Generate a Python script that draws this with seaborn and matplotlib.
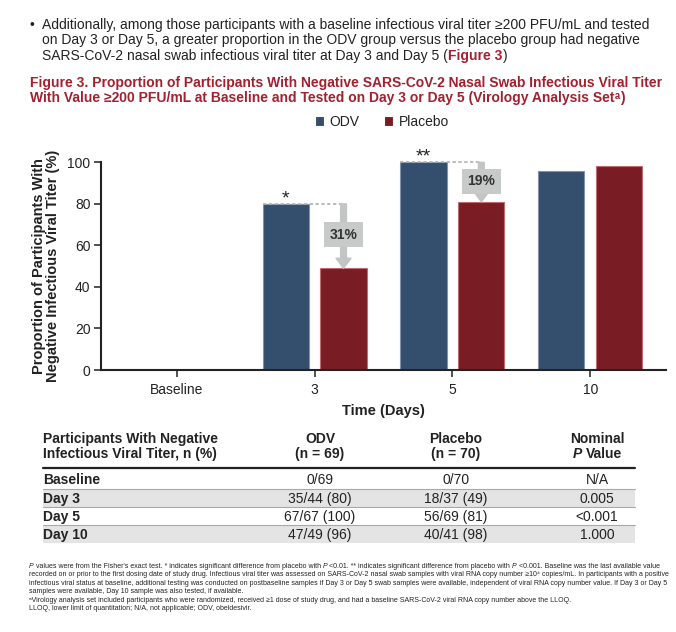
import matplotlib
matplotlib.use("Agg")
import matplotlib.pyplot as plt
import numpy as np
import pandas as pd
import seaborn as sns

# ---------------- data ----------------
days = ["Baseline", "3", "5", "10"]
groups = ["ODV", "Placebo"]
odv_pct = [0, 80, 100, 96]
placebo_pct = [0, 49, 81, 98]
diff_days = ["3", "5"]
diff_labels = ["31%", "19%"]
sig_marks = ["*", "**"]

table_header_left = ["Participants With Negative", "Infectious Viral Titer, n (%)"]
table_row_labels = ["Baseline", "Day 3", "Day 5", "Day 10"]
table_odv = ["0/69", "35/44 (80)", "67/67 (100)", "47/49 (96)"]
table_placebo = ["0/70", "18/37 (49)", "56/69 (81)", "40/41 (98)"]
table_p = ["N/A", "0.005", "<0.001", "1.000"]

bullet_lines = [
    "Additionally, among those participants with a baseline infectious viral titer \u2265200 PFU/mL and tested",
    "on Day 3 or Day 5, a greater proportion in the ODV group versus the placebo group had negative",
    "SARS-CoV-2 nasal swab infectious viral titer at Day 3 and Day 5 ",
]
title_lines = [
    "Figure 3. Proportion of Participants With Negative SARS-CoV-2 Nasal Swab Infectious Viral Titer",
    "With Value \u2265200 PFU/mL at Baseline and Tested on Day 3 or Day 5 (Virology Analysis Set",
]

# ---------------- style ----------------
sns.set_theme(style="white")
plt.rcParams["font.family"] = ["Liberation Sans", "DejaVu Sans"]
plt.rcParams["axes.unicode_minus"] = False

ODV_C = "#344e6e"
PLA_C = "#7a1c24"
RED = "#a3202f"
DARK = "#222222"
GRAY_ARROW = "#c3c5c4"

W, H = 676, 632
fig = plt.figure(figsize=(W / 100, H / 100), dpi=100)
fig.patch.set_facecolor("white")

ax_l, ax_r, ax_t, ax_b = 101, 666, 162.3, 370
ax = fig.add_axes([ax_l / W, 1 - ax_b / H, (ax_r - ax_l) / W, (ax_b - ax_t) / H])

df = pd.DataFrame({
    "Time": days * 2,
    "Group": [groups[0]] * len(days) + [groups[1]] * len(days),
    "Value": odv_pct + placebo_pct,
})

sns.barplot(data=df, x="Time", y="Value", hue="Group", order=days, hue_order=groups,
            palette=[ODV_C, PLA_C], saturation=1, width=0.84, gap=0.2,
            errorbar=None, ax=ax, linewidth=0.8)

edge_cols = ["#7f93ad", "#c06a72"]
for cont, ec in zip(ax.containers, edge_cols):
    for p in cont.patches:
        p.set_edgecolor(ec)
        if p.get_height() == 0:
            p.set_linewidth(0)

ax.set_xlim(-0.55, 3.55)
ax.set_ylim(0, 100)
ax.set_yticks([0, 20, 40, 60, 80, 100])
for s in ["top", "right"]:
    ax.spines[s].set_visible(False)
for s in ["left", "bottom"]:
    ax.spines[s].set_linewidth(1.5)
    ax.spines[s].set_color(DARK)
ax.tick_params(axis="both", direction="out", length=5, width=1.1, color=DARK,
               labelsize=10, labelcolor=DARK)
ax.tick_params(axis="x", pad=4.3)
ax.tick_params(axis="y", pad=2.5, left=True)
ax.tick_params(axis="x", bottom=True)

ax.set_xlabel("Time (Days)", fontsize=10.5, fontweight="bold", color=DARK, labelpad=5)
ax.set_ylabel("Proportion of Participants With\nNegative Infectious Viral Titer (%)",
              fontsize=10.5, fontweight="bold", color=DARK, linespacing=0.95)
ax.yaxis.set_label_coords(-0.073, 0.5)

sns.move_legend(ax, "center", bbox_to_anchor=(0.497, 1.194), ncol=2, frameon=False,
                title=None, handlelength=0.65, handleheight=0.65, handletextpad=0.4,
                columnspacing=1.8, fontsize=10)
for t in ax.get_legend().get_texts():
    t.set_color(DARK)

# difference annotations
half = 0.21
outer = 0.378
for d, lab, mark in zip(diff_days, diff_labels, sig_marks):
    i = days.index(d)
    top = odv_pct[i]
    low = placebo_pct[i]
    xo = i - half
    xp = i + half
    ax.plot([i - outer, xp], [top, top], ls=(0, (2, 1.5)), color="#b0b0b0", lw=1.2,
            clip_on=False, zorder=4)
    ax.annotate("", xy=(xp, low), xytext=(xp, top),
                arrowprops=dict(arrowstyle="simple,head_width=0.9,head_length=0.6,tail_width=0.35",
                                color=GRAY_ARROW, shrinkA=0, shrinkB=0), zorder=5,
                annotation_clip=False)
    ymid = (top + low) / 2 + (top - low) * 0.02
    ax.text(xp, ymid, lab, ha="center", va="center", fontsize=10, fontweight="bold",
            color="#333333", zorder=6,
            bbox=dict(boxstyle="square,pad=0.38", fc="#c8cac9", ec="none"))
    ax.text(xo, top + 0.2, mark, ha="center", va="baseline", fontsize=14, color=DARK,
            clip_on=False)

# ---------------- figure text helpers ----------------
renderer = fig.canvas.get_renderer()


def tw(s, **kw):
    t = fig.text(0, 0, s, **kw)
    w = t.get_window_extent(renderer).width
    t.remove()
    return w


def adv(s, **kw):
    return tw("I" + s + "I", **kw) - tw("II", **kw)


def runs(x, y, parts, size, draw=True):
    for s, kw in parts:
        k = dict(fontsize=size)
        k.update(kw)
        sp = tw("I I", **k) - tw("II", **k)
        lead = len(s) - len(s.lstrip(" "))
        trail = len(s) - len(s.rstrip(" "))
        core = s.strip(" ")
        x += lead * sp
        if draw and core:
            fig.text(x / W, 1 - y / H, core, ha="left", va="baseline", **k)
        x += (adv(core, **k) if core else 0) + trail * sp
    return x


def fit_size(s, target, **kw):
    w = adv(s, fontsize=10, **kw)
    return 10 * target / w


# bullet text
bsize = fit_size(bullet_lines[0], 651 - 42.3)
fig.text(29.5 / W, 1 - 29.3 / H, "\u2022", fontsize=bsize, color=DARK, va="baseline")
for ln, yb in zip(bullet_lines[:2], [29.3, 44.3]):
    fig.text(42.3 / W, 1 - yb / H, ln, fontsize=bsize, color=DARK, va="baseline")
runs(42.3, 60, [(bullet_lines[2] + "(", dict(color=DARK)),
                ("Figure 3", dict(color=RED, fontweight="bold")),
                (")", dict(color=DARK))], bsize)

# title
tsize = fit_size(title_lines[0], 665 - 30, fontweight="bold")
fig.text(30 / W, 1 - 86.7 / H, title_lines[0], fontsize=tsize, fontweight="bold",
         color=RED, va="baseline")
runs(30, 102.3, [(title_lines[1], dict(color=RED, fontweight="bold")),
                 ("\u1d43", dict(color=RED, fontweight="bold")),
                 (")", dict(color=RED, fontweight="bold"))], tsize)

# ---------------- table ----------------
tab_l, tab_r = 42.7, 635
col_c = [320, 456, 597]
fsz = 10
fig.text(tab_l / W, 1 - 443.3 / H, table_header_left[0], fontsize=fsz, fontweight="bold",
         color=DARK, va="baseline")
fig.text(tab_l / W, 1 - 458.3 / H, table_header_left[1], fontsize=fsz, fontweight="bold",
         color=DARK, va="baseline")
for cx, l1, l2 in zip(col_c[:2], ["ODV", "Placebo"], ["(n = 69)", "(n = 70)"]):
    fig.text(cx / W, 1 - 443.3 / H, l1, fontsize=fsz, fontweight="bold", color=DARK,
             va="baseline", ha="center")
    fig.text(cx / W, 1 - 458.3 / H, l2, fontsize=fsz, fontweight="bold", color=DARK,
             va="baseline", ha="center")
fig.text(col_c[2] / W, 1 - 443.3 / H, "Nominal", fontsize=fsz, fontweight="bold",
         color=DARK, va="baseline", ha="center")
pv_parts = [("P", dict(fontweight="bold", fontstyle="italic", color=DARK)),
            (" Value", dict(fontweight="bold", color=DARK))]
wpv = runs(0, 0, pv_parts, fsz, draw=False)
runs(col_c[2] - wpv / 2, 458.3, pv_parts, fsz)

fig.add_artist(plt.Line2D([tab_l / W, tab_r / W], [1 - 467.7 / H] * 2, color=DARK, lw=1.6))
row_edges = [468.5, 489, 507, 525, 543]
for r in range(4):
    y0, y1 = row_edges[r], row_edges[r + 1]
    if r % 2 == 1:
        fig.add_artist(plt.Rectangle((tab_l / W, 1 - y1 / H), (tab_r - tab_l) / W,
                                     (y1 - y0) / H, fc="#e4e4e4", ec="none", zorder=0))
    if 0 < r:
        fig.add_artist(plt.Line2D([tab_l / W, tab_r / W], [1 - y0 / H] * 2,
                                  color="#a8a8a8", lw=0.8))
    yb = (y0 + y1) / 2 + 5
    fig.text(tab_l / W, 1 - yb / H, table_row_labels[r], fontsize=fsz, fontweight="bold",
             color=DARK, va="baseline")
    for cx, val in zip(col_c, [table_odv[r], table_placebo[r], table_p[r]]):
        fig.text(cx / W, 1 - yb / H, val, fontsize=fsz, color=DARK, va="baseline",
                 ha="center")

# ---------------- footnotes ----------------
it = dict(fontstyle="italic", color=DARK)
nm = dict(color=DARK)
foot = [
    [("P", it), (" values were from the Fisher's exact test. * indicates significant difference from placebo with ", nm),
     ("P", it), (" <0.01. ** indicates significant difference from placebo with ", nm),
     ("P", it), (" <0.001. Baseline was the last available value", nm)],
    [("recorded on or prior to the first dosing date of study drug. Infectious viral titer was assessed on SARS-CoV-2 nasal swab samples with viral RNA copy number \u226510\u2074 copies/mL. In participants with a positive", nm)],
    [("infectious viral status at baseline, additional testing was conducted on postbaseline samples if Day 3 or Day 5 swab samples were available, independent of viral RNA copy number value. If Day 3 or Day 5", nm)],
    [("samples were available, Day 10 sample was also tested, if available.", nm)],
    [("\u1d43Virology analysis set included participants who were randomized, received \u22651 dose of study drug, and had a baseline SARS-CoV-2 viral RNA copy number above the LLOQ.", nm)],
    [("LLOQ, lower limit of quantitation; N/A, not applicable; ODV, obeldesivir.", nm)],
]
w10 = runs(0, 0, foot[0], 10, draw=False)
fsize = 10 * (657 - 29) / w10
for k, parts in enumerate(foot):
    runs(29, 568 + k * 8.4, parts, fsize)

fig.savefig("out.png", dpi=100, facecolor="white")
